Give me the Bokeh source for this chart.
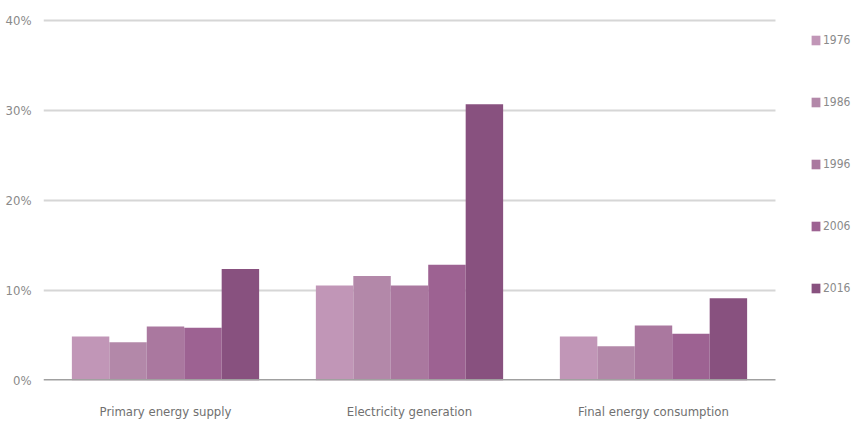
from bokeh.plotting import figure
from bokeh.models import ColumnDataSource, Range1d, Legend, LegendItem, FixedTicker, CustomJSTickFormatter
from bokeh.embed import file_html
from bokeh.resources import INLINE

categories = ["Primary energy supply", "Electricity generation", "Final energy consumption"]
years = ["1976", "1986", "1996", "2006", "2016"]
v1976 = [4.9, 10.55, 4.9]
v1986 = [4.25, 11.6, 3.8]
v1996 = [6.0, 10.55, 6.1]
v2006 = [5.85, 12.85, 5.2]
v2016 = [12.4, 30.7, 9.15]
y_ticks = [0, 10, 20, 30, 40]

colors = ["#c196b7", "#b388a9", "#aa789f", "#9d6292", "#88517f"]
FONT = "DejaVu Sans Condensed"

n = len(categories)
centers = [i + 0.5 for i in range(n)]
series = [v1976, v1986, v1996, v2006, v2016]

p = figure(x_range=Range1d(0, 3.3238), y_range=Range1d(0, 41),
           width=854, height=432, output_backend="svg", toolbar_location=None,
           min_border_left=43, min_border_right=0, min_border_top=11, min_border_bottom=52)
p.outline_line_color = None
p.xgrid.grid_line_color = None
p.ygrid.grid_line_color = None

# gridlines and baseline spanning only the category area
grid_src = ColumnDataSource(dict(y=y_ticks[1:], x0=[0] * 4, x1=[n] * 4))
p.segment(x0="x0", x1="x1", y0="y", y1="y", source=grid_src, line_color="#d6d6d6", line_width=2)

w = 0.1535
offsets = [-2 * w, -w, 0, w, 2 * w]
renderers = []
for vals, off, c in zip(series, offsets, colors):
    src = ColumnDataSource(dict(x=[cx + off for cx in centers], top=vals))
    r = p.vbar(x="x", top="top", width=w, source=src, fill_color=c, line_color=None)
    renderers.append(r)

p.segment(x0=[0], x1=[n], y0=[0], y1=[0], line_color="#a0a0a0", line_width=3)

for ax in (p.xaxis, p.yaxis):
    ax.axis_line_color = None
    ax.major_tick_line_color = None
    ax.minor_tick_line_color = None
    ax.major_tick_out = 0
    ax.major_tick_in = 0
    ax.minor_tick_out = 0
    ax.minor_tick_in = 0
    ax.major_label_text_font = FONT
    ax.major_label_text_font_size = "13px"

p.yaxis.ticker = FixedTicker(ticks=y_ticks)
p.yaxis.formatter = CustomJSTickFormatter(code="return tick + '%';")
p.yaxis.major_label_standoff = 12
p.yaxis.major_label_text_color = "#8a8a8a"

p.xaxis.ticker = FixedTicker(ticks=centers)
p.xaxis.major_label_overrides = {c: lab for c, lab in zip(centers, categories)}
p.xaxis.major_label_standoff = 23
p.xaxis.major_label_text_color = "#707070"

items = [LegendItem(label=yr, renderers=[r]) for yr, r in zip(years, renderers)]
legend = Legend(items=items, location=(767, 84), orientation="vertical",
                glyph_width=11, glyph_height=12, label_height=16, spacing=46,
                label_standoff=2, padding=0, margin=0, border_line_color=None,
                background_fill_alpha=0, label_text_font=FONT,
                label_text_font_size="12px", label_text_color="#8a8a8a")
p.add_layout(legend)

open("out.html", "w").write(file_html(p, INLINE))
